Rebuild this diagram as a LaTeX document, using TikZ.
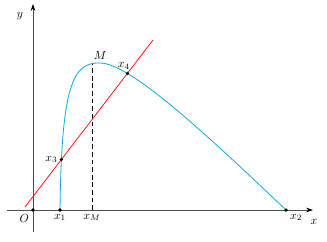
\documentclass[tikz,border=0pt]{standalone}
\usetikzlibrary{intersections,arrows.meta}

\definecolor{curveblue}{RGB}{20,170,230}

\begin{document}
\begin{tikzpicture}[x=0.3cm,y=0.3cm,
    dot/.style={circle,fill=black,inner sep=0pt,minimum size=3pt}]
    \useasboundingbox (-3.3,-3.1) rectangle (29.4,21.0);

    \draw[black!70,line width=0.6pt,-{Stealth[black,length=6pt,width=4pt]}] (-2.6,0) -- (28,0);
    \draw[black!70,line width=0.6pt,-{Stealth[black,length=6pt,width=4pt]}] (0,-2.2) -- (0,20.6);
    \node at (-1.3,19.4) {$y$};
    \node at (28.1,-1.2) {$x$};

    \coordinate[label=below left:$O$] (O) at (0,0);
    \coordinate[label=below:$x_1$] (x1) at (2.7,0);
    \coordinate[label=below:$x_M$] (xM) at (5.9,0);
    \coordinate[label=below right:$x_2$] (x2) at (25.3,0);
    \coordinate[label={[xshift=-2pt]above right:$M$}] (M) at (5.9,14.6);
    \coordinate (top) at (6.7,14.7);

    \draw[dash pattern=on 4pt off 2.5pt,line width=0.6pt] (xM) -- (M);

    \draw[name path=curve,curveblue,line width=0.7pt] (x1)
        .. controls (2.85,12.5) and (4.0,14.8) .. (top)
        .. controls (9.7,14.7) and (17.3,7.6) .. (x2);

    \draw[name path=line,red,line width=0.6pt] (-0.8,0.3) -- (12,17);

    \path[name intersections={of=curve and line,name=i,sort by=line}];
    \coordinate[label=left:$x_3$] (x3) at (i-1);
    \coordinate[label={[xshift=-3pt]above:$x_4$}] (x4) at (i-2);

    \foreach \p in {O,x1,x2,x3,x4}
        \node[dot] at (\p) {};
\end{tikzpicture}
\end{document}
